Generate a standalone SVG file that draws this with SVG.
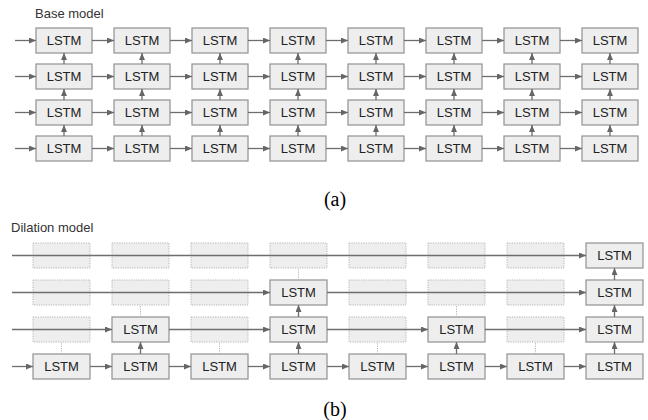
<svg xmlns="http://www.w3.org/2000/svg" width="648" height="420" viewBox="0 0 648 420">
<style>
.b{fill:#eeeeee;stroke:#999999;stroke-width:1.3}
.d{fill:#eeeeee;stroke:#b5b5b5;stroke-width:1;stroke-dasharray:1.2 1.2}
.t{font-family:"Liberation Sans",Arial,sans-serif;font-size:13px;fill:#222222;text-anchor:middle}
.h{font-family:"Liberation Sans",Arial,sans-serif;font-size:13px;fill:#333333}
.c{font-family:"Liberation Serif","Times New Roman",serif;font-size:20px;fill:#000000;text-anchor:middle}
.a{stroke:#6e6e6e;stroke-width:1.3;fill:none;marker-end:url(#ah)}
.l{stroke:#777777;stroke-width:1.5;fill:none}
.dl{stroke:#b5b5b5;stroke-width:1;stroke-dasharray:1.2 1.2;fill:none}
</style>
<defs>
<marker id="ah" viewBox="0 0 7 6" refX="7" refY="3" markerWidth="7" markerHeight="6" markerUnits="userSpaceOnUse" orient="auto">
<path d="M0,0 L7,3 L0,6 z" fill="#666666"/>
</marker>
<rect id="bb" width="56" height="25"/>
<rect id="db" width="57" height="25"/>
</defs>
<rect width="648" height="420" fill="#ffffff"/>
<text class="h" x="35" y="18">Base model</text>
<text class="h" x="11" y="232">Dilation model</text>
<text class="c" x="335" y="206">(a)</text>
<text class="c" x="335" y="416">(b)</text>

<g id="base-nodes">
<g id="a-r1c1"><rect class="b" x="36" y="28" width="56" height="25"/><text class="t" x="64" y="45.2">LSTM</text></g>
<g id="a-r1c2"><rect class="b" x="114" y="28" width="56" height="25"/><text class="t" x="142" y="45.2">LSTM</text></g>
<g id="a-r1c3"><rect class="b" x="192" y="28" width="56" height="25"/><text class="t" x="220" y="45.2">LSTM</text></g>
<g id="a-r1c4"><rect class="b" x="270" y="28" width="56" height="25"/><text class="t" x="298" y="45.2">LSTM</text></g>
<g id="a-r1c5"><rect class="b" x="348" y="28" width="56" height="25"/><text class="t" x="376" y="45.2">LSTM</text></g>
<g id="a-r1c6"><rect class="b" x="426" y="28" width="56" height="25"/><text class="t" x="454" y="45.2">LSTM</text></g>
<g id="a-r1c7"><rect class="b" x="504" y="28" width="56" height="25"/><text class="t" x="532" y="45.2">LSTM</text></g>
<g id="a-r1c8"><rect class="b" x="582" y="28" width="56" height="25"/><text class="t" x="610" y="45.2">LSTM</text></g>

<g id="a-r2c1"><rect class="b" x="36" y="64" width="56" height="25"/><text class="t" x="64" y="81.2">LSTM</text></g>
<g id="a-r2c2"><rect class="b" x="114" y="64" width="56" height="25"/><text class="t" x="142" y="81.2">LSTM</text></g>
<g id="a-r2c3"><rect class="b" x="192" y="64" width="56" height="25"/><text class="t" x="220" y="81.2">LSTM</text></g>
<g id="a-r2c4"><rect class="b" x="270" y="64" width="56" height="25"/><text class="t" x="298" y="81.2">LSTM</text></g>
<g id="a-r2c5"><rect class="b" x="348" y="64" width="56" height="25"/><text class="t" x="376" y="81.2">LSTM</text></g>
<g id="a-r2c6"><rect class="b" x="426" y="64" width="56" height="25"/><text class="t" x="454" y="81.2">LSTM</text></g>
<g id="a-r2c7"><rect class="b" x="504" y="64" width="56" height="25"/><text class="t" x="532" y="81.2">LSTM</text></g>
<g id="a-r2c8"><rect class="b" x="582" y="64" width="56" height="25"/><text class="t" x="610" y="81.2">LSTM</text></g>

<g id="a-r3c1"><rect class="b" x="36" y="100" width="56" height="25"/><text class="t" x="64" y="117.2">LSTM</text></g>
<g id="a-r3c2"><rect class="b" x="114" y="100" width="56" height="25"/><text class="t" x="142" y="117.2">LSTM</text></g>
<g id="a-r3c3"><rect class="b" x="192" y="100" width="56" height="25"/><text class="t" x="220" y="117.2">LSTM</text></g>
<g id="a-r3c4"><rect class="b" x="270" y="100" width="56" height="25"/><text class="t" x="298" y="117.2">LSTM</text></g>
<g id="a-r3c5"><rect class="b" x="348" y="100" width="56" height="25"/><text class="t" x="376" y="117.2">LSTM</text></g>
<g id="a-r3c6"><rect class="b" x="426" y="100" width="56" height="25"/><text class="t" x="454" y="117.2">LSTM</text></g>
<g id="a-r3c7"><rect class="b" x="504" y="100" width="56" height="25"/><text class="t" x="532" y="117.2">LSTM</text></g>
<g id="a-r3c8"><rect class="b" x="582" y="100" width="56" height="25"/><text class="t" x="610" y="117.2">LSTM</text></g>

<g id="a-r4c1"><rect class="b" x="36" y="136" width="56" height="25"/><text class="t" x="64" y="153.2">LSTM</text></g>
<g id="a-r4c2"><rect class="b" x="114" y="136" width="56" height="25"/><text class="t" x="142" y="153.2">LSTM</text></g>
<g id="a-r4c3"><rect class="b" x="192" y="136" width="56" height="25"/><text class="t" x="220" y="153.2">LSTM</text></g>
<g id="a-r4c4"><rect class="b" x="270" y="136" width="56" height="25"/><text class="t" x="298" y="153.2">LSTM</text></g>
<g id="a-r4c5"><rect class="b" x="348" y="136" width="56" height="25"/><text class="t" x="376" y="153.2">LSTM</text></g>
<g id="a-r4c6"><rect class="b" x="426" y="136" width="56" height="25"/><text class="t" x="454" y="153.2">LSTM</text></g>
<g id="a-r4c7"><rect class="b" x="504" y="136" width="56" height="25"/><text class="t" x="532" y="153.2">LSTM</text></g>
<g id="a-r4c8"><rect class="b" x="582" y="136" width="56" height="25"/><text class="t" x="610" y="153.2">LSTM</text></g>
</g>

<g id="dil-nodes">
<g id="b-r1c1"><rect class="d" x="33" y="243" width="57" height="25"/></g>
<g id="b-r1c2"><rect class="d" x="112" y="243" width="57" height="25"/></g>
<g id="b-r1c3"><rect class="d" x="191" y="243" width="57" height="25"/></g>
<g id="b-r1c4"><rect class="d" x="270" y="243" width="57" height="25"/></g>
<g id="b-r1c5"><rect class="d" x="349" y="243" width="57" height="25"/></g>
<g id="b-r1c6"><rect class="d" x="428" y="243" width="57" height="25"/></g>
<g id="b-r1c7"><rect class="d" x="507" y="243" width="57" height="25"/></g>
<g id="b-r1c8"><rect class="b" x="586" y="243" width="57" height="25"/><text class="t" x="614.5" y="260.2">LSTM</text></g>

<g id="b-r2c1"><rect class="d" x="33" y="280" width="57" height="25"/></g>
<g id="b-r2c2"><rect class="d" x="112" y="280" width="57" height="25"/></g>
<g id="b-r2c3"><rect class="d" x="191" y="280" width="57" height="25"/></g>
<g id="b-r2c4"><rect class="b" x="270" y="280" width="57" height="25"/><text class="t" x="298.5" y="297.2">LSTM</text></g>
<g id="b-r2c5"><rect class="d" x="349" y="280" width="57" height="25"/></g>
<g id="b-r2c6"><rect class="d" x="428" y="280" width="57" height="25"/></g>
<g id="b-r2c7"><rect class="d" x="507" y="280" width="57" height="25"/></g>
<g id="b-r2c8"><rect class="b" x="586" y="280" width="57" height="25"/><text class="t" x="614.5" y="297.2">LSTM</text></g>

<g id="b-r3c1"><rect class="d" x="33" y="317" width="57" height="25"/></g>
<g id="b-r3c2"><rect class="b" x="112" y="317" width="57" height="25"/><text class="t" x="140.5" y="334.2">LSTM</text></g>
<g id="b-r3c3"><rect class="d" x="191" y="317" width="57" height="25"/></g>
<g id="b-r3c4"><rect class="b" x="270" y="317" width="57" height="25"/><text class="t" x="298.5" y="334.2">LSTM</text></g>
<g id="b-r3c5"><rect class="d" x="349" y="317" width="57" height="25"/></g>
<g id="b-r3c6"><rect class="b" x="428" y="317" width="57" height="25"/><text class="t" x="456.5" y="334.2">LSTM</text></g>
<g id="b-r3c7"><rect class="d" x="507" y="317" width="57" height="25"/></g>
<g id="b-r3c8"><rect class="b" x="586" y="317" width="57" height="25"/><text class="t" x="614.5" y="334.2">LSTM</text></g>

<g id="b-r4c1"><rect class="b" x="33" y="354" width="57" height="25"/><text class="t" x="61.5" y="371.2">LSTM</text></g>
<g id="b-r4c2"><rect class="b" x="112" y="354" width="57" height="25"/><text class="t" x="140.5" y="371.2">LSTM</text></g>
<g id="b-r4c3"><rect class="b" x="191" y="354" width="57" height="25"/><text class="t" x="219.5" y="371.2">LSTM</text></g>
<g id="b-r4c4"><rect class="b" x="270" y="354" width="57" height="25"/><text class="t" x="298.5" y="371.2">LSTM</text></g>
<g id="b-r4c5"><rect class="b" x="349" y="354" width="57" height="25"/><text class="t" x="377.5" y="371.2">LSTM</text></g>
<g id="b-r4c6"><rect class="b" x="428" y="354" width="57" height="25"/><text class="t" x="456.5" y="371.2">LSTM</text></g>
<g id="b-r4c7"><rect class="b" x="507" y="354" width="57" height="25"/><text class="t" x="535.5" y="371.2">LSTM</text></g>
<g id="b-r4c8"><rect class="b" x="586" y="354" width="57" height="25"/><text class="t" x="614.5" y="371.2">LSTM</text></g>
</g>

<g id="connectors">
<!-- base horizontal -->
<path class="a" d="M15,40.5H36"/><path class="a" d="M92,40.5H114"/><path class="a" d="M170,40.5H192"/><path class="a" d="M248,40.5H270"/><path class="a" d="M326,40.5H348"/><path class="a" d="M404,40.5H426"/><path class="a" d="M482,40.5H504"/><path class="a" d="M560,40.5H582"/>
<path class="a" d="M15,76.5H36"/><path class="a" d="M92,76.5H114"/><path class="a" d="M170,76.5H192"/><path class="a" d="M248,76.5H270"/><path class="a" d="M326,76.5H348"/><path class="a" d="M404,76.5H426"/><path class="a" d="M482,76.5H504"/><path class="a" d="M560,76.5H582"/>
<path class="a" d="M15,112.5H36"/><path class="a" d="M92,112.5H114"/><path class="a" d="M170,112.5H192"/><path class="a" d="M248,112.5H270"/><path class="a" d="M326,112.5H348"/><path class="a" d="M404,112.5H426"/><path class="a" d="M482,112.5H504"/><path class="a" d="M560,112.5H582"/>
<path class="a" d="M15,148.5H36"/><path class="a" d="M92,148.5H114"/><path class="a" d="M170,148.5H192"/><path class="a" d="M248,148.5H270"/><path class="a" d="M326,148.5H348"/><path class="a" d="M404,148.5H426"/><path class="a" d="M482,148.5H504"/><path class="a" d="M560,148.5H582"/>
<!-- base vertical -->
<path class="a" d="M64,64V53"/><path class="a" d="M64,100V89"/><path class="a" d="M64,136V125"/>
<path class="a" d="M142,64V53"/><path class="a" d="M142,100V89"/><path class="a" d="M142,136V125"/>
<path class="a" d="M220,64V53"/><path class="a" d="M220,100V89"/><path class="a" d="M220,136V125"/>
<path class="a" d="M298,64V53"/><path class="a" d="M298,100V89"/><path class="a" d="M298,136V125"/>
<path class="a" d="M376,64V53"/><path class="a" d="M376,100V89"/><path class="a" d="M376,136V125"/>
<path class="a" d="M454,64V53"/><path class="a" d="M454,100V89"/><path class="a" d="M454,136V125"/>
<path class="a" d="M532,64V53"/><path class="a" d="M532,100V89"/><path class="a" d="M532,136V125"/>
<path class="a" d="M610,64V53"/><path class="a" d="M610,100V89"/><path class="a" d="M610,136V125"/>
<!-- dilation horizontal -->
<path class="a" d="M12,255.5H586"/>
<path class="a" d="M12,292.5H270"/><path class="a" d="M327,292.5H586"/>
<path class="a" d="M12,329.5H112"/><path class="a" d="M169,329.5H270"/><path class="a" d="M327,329.5H428"/><path class="a" d="M485,329.5H586"/>
<path class="a" d="M12,366.5H33"/><path class="a" d="M90,366.5H112"/><path class="a" d="M169,366.5H191"/><path class="a" d="M248,366.5H270"/><path class="a" d="M327,366.5H349"/><path class="a" d="M406,366.5H428"/><path class="a" d="M485,366.5H507"/><path class="a" d="M564,366.5H586"/>
<!-- dilation vertical solid -->
<path class="a" d="M140.5,354V342"/>
<path class="a" d="M298.5,354V342"/><path class="a" d="M298.5,317V305"/>
<path class="a" d="M456.5,354V342"/>
<path class="a" d="M614.5,354V342"/><path class="a" d="M614.5,317V305"/><path class="a" d="M614.5,280V268"/>
<!-- dilation vertical dotted -->
<path class="dl" d="M61.5,354V342"/><path class="dl" d="M219.5,354V342"/><path class="dl" d="M377.5,354V342"/><path class="dl" d="M535.5,354V342"/>
<path class="dl" d="M140.5,317V305"/><path class="dl" d="M456.5,317V305"/>
<path class="dl" d="M298.5,280V268"/>
</g>
</svg>
